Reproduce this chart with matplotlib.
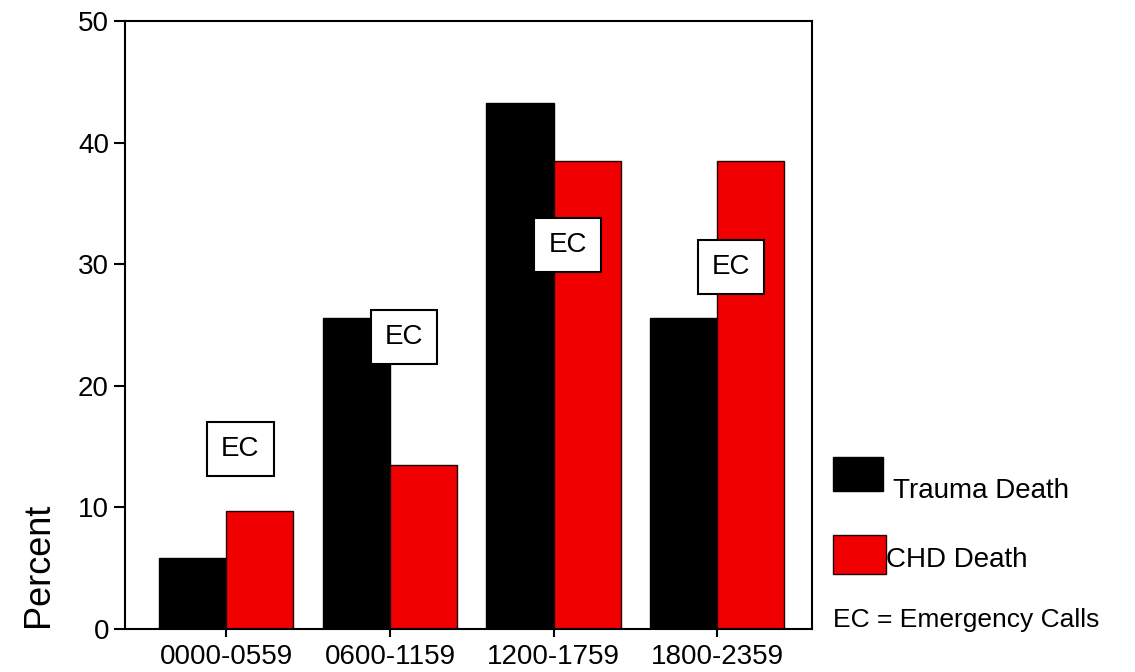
import matplotlib.pyplot as plt
import numpy as np

# dados
periodos = ['0000-0559', '0600-1159', '1200-1759', '1800-2359']
trauma = [5.8, 25.6, 43.3, 25.6]
chd = [9.7, 13.5, 38.5, 38.5]
chamadas_ec = [14.8, 24.0, 31.6, 29.8]

plt.rcParams['font.family'] = ['Liberation Sans', 'DejaVu Sans']

fig = plt.figure(figsize=(11.35, 6.72), dpi=100)
ax = fig.add_axes([0.1101, 0.064, 0.6053, 0.9047])

x = np.arange(len(periodos))
w = 0.41
ax.bar(x - w / 2, trauma, w, color='black', edgecolor='black', linewidth=1)
ax.bar(x + w / 2, chd, w, color='#f00000', edgecolor='#200000', linewidth=1)

for xi, v in zip(x, chamadas_ec):
    ax.text(xi + 0.086, v, 'EC', ha='center', va='center', fontsize=20,
            bbox=dict(boxstyle='square,pad=0.5', facecolor='white',
                      edgecolor='black', linewidth=1.5))

ax.set_xlim(-0.62, 3.58)
ax.set_ylim(0, 50)
ax.set_yticks([0, 10, 20, 30, 40, 50])
ax.set_xticks(x)
ax.set_xticklabels(periodos)
ax.tick_params(axis='both', labelsize=20, width=1.5, direction='out')
ax.tick_params(axis='y', length=8)
ax.tick_params(axis='x', length=6, pad=5)
for s in ax.spines.values():
    s.set_linewidth(1.5)

fig.text(0.034, 0.16, 'Percent', rotation=90, fontsize=26, ha='center', va='center')

# legenda manual
fig.patches.append(plt.Rectangle((0.734, 0.269), 0.044, 0.051, transform=fig.transFigure,
                                 facecolor='black', edgecolor='black'))
fig.text(0.787, 0.27, 'Trauma Death', fontsize=20, va='center')
fig.patches.append(plt.Rectangle((0.734, 0.146), 0.047, 0.058, transform=fig.transFigure,
                                 facecolor='#f00000', edgecolor='#200000'))
fig.text(0.781, 0.167, 'CHD Death', fontsize=20, va='center')
fig.text(0.734, 0.077, 'EC = Emergency Calls', fontsize=19, va='center')

fig.savefig('out.png', dpi=100)
